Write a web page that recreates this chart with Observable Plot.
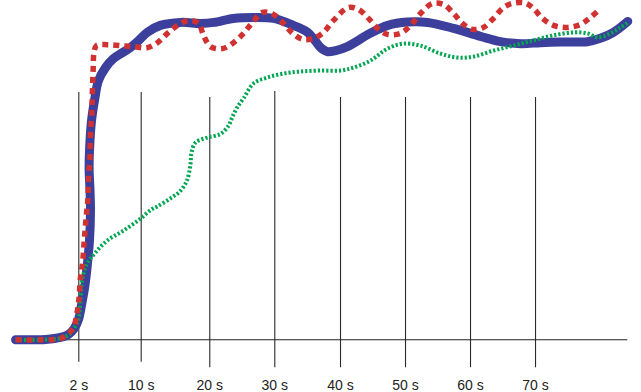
<!DOCTYPE html>
<html>
<head>
<meta charset="utf-8">
<script src="https://cdn.jsdelivr.net/npm/d3@7"></script>
<script src="https://cdn.jsdelivr.net/npm/@observablehq/plot@0.6"></script>
<style>
  html, body { margin: 0; padding: 0; background: #fff; }
  svg { display: block; }
</style>
</head>
<body>
<div id="chart"></div>
<script>
// Tick categories and their positions along the x axis
const tickLabels = ["2 s", "10 s", "20 s", "30 s", "40 s", "50 s", "60 s", "70 s"];
const tickPos = [0, 0.957, 2.009, 3.006, 4.014, 5.011, 6.008, 7.005];

// Series: [x position, value]
const blueSeries = [
  [-0.97, 0], [-0.74, 0], [-0.51, 0.1], [-0.28, 0.7], [-0.16, 1.6], [-0.07, 3.4],
  [0.0, 6.4], [0.04, 10.3], [0.09, 15.8], [0.13, 22.4], [0.164, 29.9], [0.179, 38.9],
  [0.172, 45], [0.158, 51.9], [0.172, 60], [0.195, 66], [0.241, 72.1], [0.302, 78.1],
  [0.41, 82], [0.53, 84.7], [0.67, 86.5], [0.79, 88], [0.9, 89.8], [1.05, 92.6],
  [1.25, 94.7], [1.56, 95.6], [1.87, 95.3], [2.07, 95.6], [2.37, 96.8], [2.68, 97.1],
  [2.99, 96.8], [3.29, 94.7], [3.51, 92.6], [3.62, 90.2], [3.71, 88], [3.81, 86.8],
  [3.94, 87.1], [4.12, 88.3], [4.47, 92.3], [4.74, 94.7], [5.04, 95.7], [5.35, 95.6],
  [5.75, 93.8], [6.16, 91.4], [6.47, 89.8], [6.78, 89.2], [7.08, 89.5], [7.39, 89.7],
  [7.8, 89.8], [8.0, 90.8], [8.2, 92.6], [8.42, 95.9]
];

const greenSeries = [
  [-0.97, 0], [-0.59, 0], [-0.28, 0.5], [-0.13, 1.9], [-0.05, 4.3], [0.0, 6.7],
  [0.026, 11.8], [0.052, 17.9], [0.129, 23], [0.256, 26.3], [0.436, 29.9], [0.686, 32.9],
  [0.946, 36.5], [1.11, 39.2], [1.207, 40.2], [1.406, 42.6], [1.56, 44.9], [1.663, 48.2],
  [1.713, 53], [1.729, 56.4], [1.79, 59.4], [1.969, 60.9], [2.173, 62], [2.296, 64.5],
  [2.353, 67], [2.429, 70], [2.526, 72.7], [2.679, 77.2], [2.893, 79], [3.14, 80.2],
  [3.4, 80.8], [3.707, 81.1], [4.014, 81.1], [4.213, 82], [4.474, 84.1], [4.735, 87.7],
  [4.98, 89.2], [5.241, 88.6], [5.547, 86.2], [5.808, 85], [6.054, 85.3], [6.36, 87.1],
  [6.667, 88.6], [6.974, 90.2], [7.281, 91.7], [7.588, 92.6], [7.802, 92.3], [7.956, 91.1],
  [8.155, 92.3], [8.308, 94.1], [8.431, 95.6]
];

const redSeries = [
  [-0.97, 0], [-0.59, 0], [-0.28, 0.4], [-0.16, 1.9], [-0.08, 3.7], [-0.035, 7.3],
  [0.0, 11.8], [0.026, 18.8], [0.057, 23], [0.087, 30.8], [0.118, 38], [0.138, 42],
  [0.153, 50.1], [0.169, 54], [0.179, 62.1], [0.202, 69.1], [0.206, 73], [0.221, 82],
  [0.233, 86.5], [0.271, 88.6], [0.436, 88.9], [0.64, 88.6], [0.839, 88.3], [1.054, 88],
  [1.207, 89.5], [1.36, 92.3], [1.514, 94.7], [1.681, 96.2], [1.836, 95.3], [1.913, 91.7],
  [2.02, 88.3], [2.204, 87.7], [2.373, 89.5], [2.526, 92.3], [2.664, 95.6], [2.817, 98.6],
  [2.986, 98], [3.14, 95.3], [3.278, 92.3], [3.431, 90.5], [3.6, 90.8], [3.753, 92.6],
  [3.906, 96.2], [4.137, 100.1], [4.29, 99.5], [4.443, 96.8], [4.581, 93.8], [4.735, 92],
  [4.934, 92.3], [5.087, 94.7], [5.241, 98.3], [5.425, 101.3], [5.594, 101], [5.747, 98.3],
  [5.885, 95.3], [6.038, 93.5], [6.207, 94.1], [6.36, 96.8], [6.514, 100.1], [6.667, 101.4],
  [6.851, 101.4], [6.974, 99.8], [7.112, 96.8], [7.281, 94.7], [7.495, 94.1], [7.695, 95],
  [7.848, 97.1], [8.002, 99.8]
];

const ruleTop = [74.5, 74.5, 73, 74.8, 73, 73, 73, 73];
const ruleBottom = [-6.75, -6.75, -8.4, -8.4, -8.4, -8.4, -8.4, -8.4];

const chart = Plot.plot({
  width: 641,
  height: 392,
  marginLeft: 13.1,
  marginRight: 8.5,
  marginTop: 7.3,
  marginBottom: 52.7,
  style: { background: "#fff", fontFamily: "Liberation Sans, Arial, sans-serif" },
  x: { domain: [-1, 8.5] },
  y: { domain: [0, 100], axis: null },
  marks: [
    Plot.ruleX(tickPos, {
      x: (d) => d,
      y1: (d, i) => ruleTop[i],
      y2: (d, i) => ruleBottom[i],
      stroke: "#2a2a2a", strokeWidth: 1.1
    }),
    Plot.ruleY([0], { x1: -1.0, x2: 8.42, stroke: "#222", strokeWidth: 1.1 }),
    Plot.axisX({
      ticks: tickPos,
      tickFormat: (v) => tickLabels[tickPos.indexOf(v)],
      tickSize: 0,
      tickPadding: 40,
      fontSize: 14,
      fill: "#222",
      label: null
    }),
    Plot.line(blueSeries, {
      x: (d) => d[0], y: (d) => d[1],
      stroke: "#3c3f9b", strokeWidth: 9, curve: "catmull-rom",
      strokeLinecap: "round", strokeLinejoin: "round"
    }),
    Plot.line(greenSeries, {
      x: (d) => d[0], y: (d) => d[1],
      stroke: "#00a651", strokeWidth: 4, curve: "catmull-rom",
      strokeDasharray: "2.2,2", strokeLinecap: "butt"
    }),
    Plot.line(redSeries, {
      x: (d) => d[0], y: (d) => d[1],
      stroke: "#d03131", strokeWidth: 5.5, curve: "catmull-rom",
      strokeDasharray: "6,5", strokeLinecap: "butt"
    })
  ]
});
document.getElementById("chart").appendChild(chart);
</script>
</body>
</html>
